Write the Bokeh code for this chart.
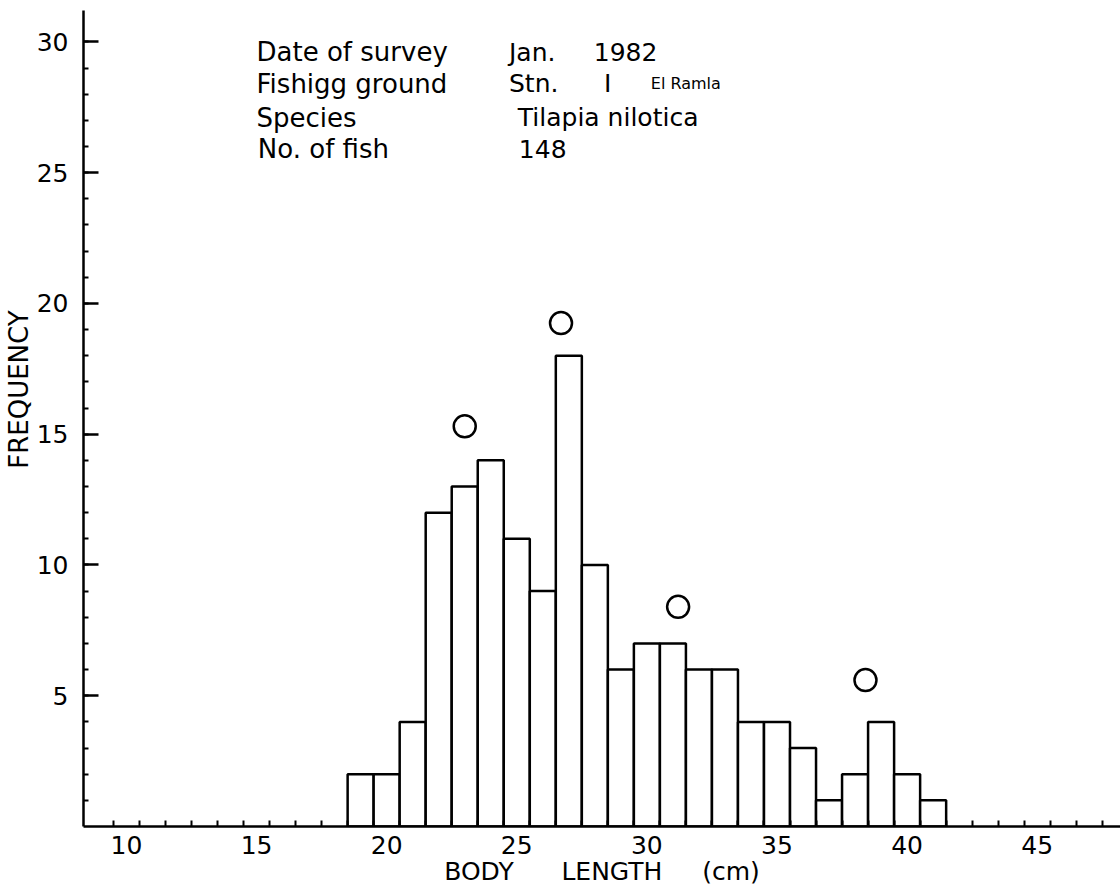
from bokeh.plotting import figure
from bokeh.models import Range1d, FixedTicker, Label
from bokeh.embed import file_html
from bokeh.resources import INLINE

# ---- data ----
body_length = [19, 20, 21, 22, 23, 24, 25, 26, 27, 28, 29, 30,
               31, 32, 33, 34, 35, 36, 37, 38, 39, 40, 41]
frequency = [2, 2, 4, 12, 13, 14, 11, 9, 18, 10, 6, 7,
             7, 6, 6, 4, 4, 3, 1, 2, 4, 2, 1]
mode_x = [23.0, 26.7, 31.2, 38.4]
mode_y = [15.3, 19.25, 8.4, 5.6]
x_ticks = [10, 15, 20, 25, 30, 35, 40, 45]
y_ticks = [5, 10, 15, 20, 25, 30]

FONT = "DejaVu Sans"
NB = "\u00a0"

p = figure(width=1120, height=889, output_backend="svg", toolbar_location=None,
           x_range=Range1d(8.35, 48.2), y_range=Range1d(0, 31.2),
           min_border_left=80, min_border_right=0, min_border_top=10,
           min_border_bottom=63)
p.outline_line_color = None
p.xgrid.visible = False
p.ygrid.visible = False
p.background_fill_color = "white"
p.border_fill_color = "white"

# histogram bars
p.vbar(x=body_length, width=1.0, top=frequency, bottom=0,
       fill_color="white", line_color="black", line_width=2.5)

# mode markers
p.scatter(x=mode_x, y=mode_y, marker="circle", size=22, fill_color=None,
          line_color="black", line_width=2.5)

# axes
xa = p.xaxis[0]
xa.ticker = FixedTicker(ticks=x_ticks,
                        minor_ticks=[v + 0.5 for v in range(9, 48)])
xa.axis_line_width = 2.5
xa.axis_line_color = "black"
xa.major_tick_in = 0
xa.major_tick_out = 0
xa.minor_tick_in = 6
xa.minor_tick_out = 0
xa.minor_tick_line_width = 2
xa.major_label_text_font = FONT
xa.major_label_text_font_size = "25px"
xa.major_label_text_color = "black"
xa.major_label_standoff = 9
xa.axis_label = "BODY" + NB * 6 + "LENGTH" + NB * 5 + "(cm)"
xa.axis_label_text_font = FONT
xa.axis_label_text_font_size = "25px"
xa.axis_label_text_font_style = "normal"
xa.axis_label_text_color = "black"
xa.axis_label_standoff = 0

ya = p.yaxis[0]
ya.ticker = FixedTicker(ticks=y_ticks, minor_ticks=list(range(1, 31)))
ya.axis_line_width = 2.5
ya.axis_line_color = "black"
ya.major_tick_in = 15
ya.major_tick_out = 0
ya.major_tick_line_width = 2.5
ya.minor_tick_in = 5
ya.minor_tick_out = 0
ya.minor_tick_line_width = 2
ya.major_label_text_font = FONT
ya.major_label_text_font_size = "25px"
ya.major_label_text_color = "black"
ya.major_label_standoff = 15
ya.axis_label = NB * 7 + "FREQUENCY"
ya.axis_label_text_font = FONT
ya.axis_label_text_font_size = "26px"
ya.axis_label_text_font_style = "normal"
ya.axis_label_text_color = "black"
ya.axis_label_standoff = 0

# annotation block
def lab(x, y, text, size="25px", **kw):
    p.add_layout(Label(x=x, y=y, text=text, text_font=FONT,
                       text_font_size=size, text_color="black",
                       text_baseline="middle", **kw))

rows_y = [29.6, 28.4, 27.1, 25.9]
lab(15.0, rows_y[0], "Date of survey", size="26px")
lab(15.0, rows_y[1], "Fishigg ground", size="26px")
lab(15.0, rows_y[2], "Species", size="26px")
lab(15.05, rows_y[3], "No. of fish", size="26px")
lab(24.7, rows_y[0], "Jan.")
lab(27.96, rows_y[0], "1982")
lab(24.7, rows_y[1], "Stn.")
lab(28.35, rows_y[1], "I")
lab(30.15, rows_y[1], "El Ramla", size="16px")
lab(25.04, rows_y[2], "Tilapia nilotica")
lab(25.08, rows_y[3], "148")

open("out.html", "w").write(file_html(p, INLINE))
